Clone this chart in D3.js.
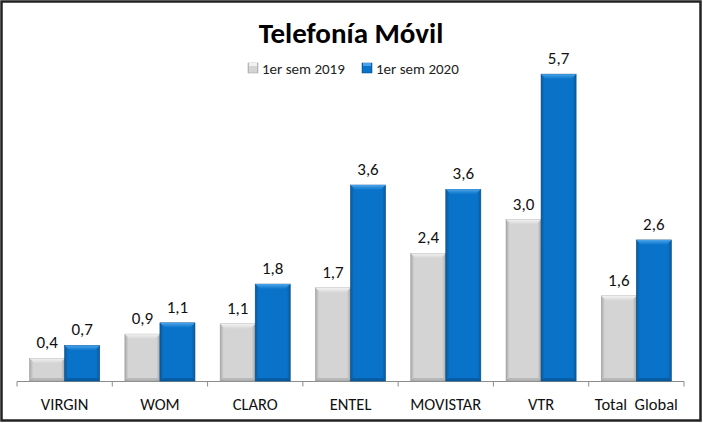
<!DOCTYPE html>
<html>
<head>
<meta charset="utf-8">
<script src="https://cdn.jsdelivr.net/npm/d3@7"></script>
<style>
  body { margin: 0; background: #fff; }
  text { font-family: Carlito, Lato, "Open Sans", sans-serif; }
</style>
</head>
<body>
<div id="chart"></div>
<script>
var W = 703, H = 423
var categories = ["VIRGIN", "WOM", "CLARO", "ENTEL", "MOVISTAR", "VTR", "Total  Global"]
var series = ["1er sem 2019", "1er sem 2020"]
var values2019 = [0.42, 0.87, 1.06, 1.73, 2.37, 3.0, 1.58]
var values2020 = [0.66, 1.08, 1.8, 3.64, 3.56, 5.7, 2.62]

var svg = d3.select("#chart").append("svg")
            .attr("width", W).attr("height", H)

// Gradients for the bevelled bars
var defs = svg.append("defs")
var colors = {
  "1er sem 2019": { edge: "#a9a9a9", mid: "#d4d4d4", top: "#f2f2f2", side: "#9c9c9c" },
  "1er sem 2020": { edge: "#0a5a9c", mid: "#0873c8", top: "#4aa3ea", side: "#054a85" }
}
series.forEach( (s, i) => {
  var c = colors[s]
  var g = defs.append("linearGradient").attr("id", "grad" + i)
              .attr("x1", "0").attr("x2", "1").attr("y1", "0").attr("y2", "0")
  g.append("stop").attr("offset", "0").attr("stop-color", c.edge)
  g.append("stop").attr("offset", "0.1").attr("stop-color", c.mid)
  g.append("stop").attr("offset", "0.9").attr("stop-color", c.mid)
  g.append("stop").attr("offset", "1").attr("stop-color", c.edge)
  var t = defs.append("linearGradient").attr("id", "top" + i)
              .attr("x1", "0").attr("x2", "0").attr("y1", "0").attr("y2", "1")
  t.append("stop").attr("offset", "0").attr("stop-color", c.top)
  t.append("stop").attr("offset", "1").attr("stop-color", c.mid)
})

// Frame
svg.append("rect").attr("x", 1.5).attr("y", 1.5)
   .attr("width", W - 4).attr("height", H - 4)
   .attr("fill", "#fff").attr("stroke", "#222").attr("stroke-width", 2.5)

// Scales
var x0 = d3.scaleBand().domain(categories).range([17, 684])
var x1 = d3.scaleBand().domain(series).range([0, x0.bandwidth()]).paddingOuter(0.36)
var y = d3.scaleLinear().domain([0, 6]).range([381, 58])

var fmt = v => d3.format(".1f")(v).replace(".", ",")

// Title
svg.append("text").attr("x", 351).attr("y", 43)
   .attr("text-anchor", "middle").attr("font-size", 29).attr("font-weight", "bold")
   .text("Telefonía Móvil")

// Legend
var legX = [248, 362]
series.forEach( (s, i) => {
  var lg = svg.append("g").attr("transform", "translate(" + legX[i] + ",68)")
  lg.append("rect").attr("x", 0).attr("y", -5).attr("width", 10).attr("height", 10)
    .attr("fill", "url(#grad" + i + ")").attr("stroke", colors[s].side).attr("stroke-width", 0.5)
  lg.append("rect").attr("x", 1).attr("y", -5).attr("width", 8).attr("height", 3)
    .attr("fill", colors[s].top)
  lg.append("text").attr("x", 14).attr("y", 5.5).attr("font-size", 15)
    .attr("fill", "#222").text(s)
})

// Axis
var axisG = svg.append("g").attr("transform", "translate(0,381.5)")
axisG.append("line").attr("x1", 17).attr("x2", 684)
     .attr("stroke", "#8c8c8c").attr("stroke-width", 1)
var ticks = categories.map( c => x0(c) ).concat([x0.range()[1]])
axisG.selectAll(".tick").data(ticks).enter().append("line")
     .attr("x1", d => d).attr("x2", d => d).attr("y1", 0).attr("y2", 5)
     .attr("stroke", "#8c8c8c")
axisG.selectAll(".lab").data(categories).enter().append("text")
     .attr("x", d => x0(d) + x0.bandwidth() / 2).attr("y", 28)
     .attr("text-anchor", "middle").attr("font-size", 16.5).attr("fill", "#111")
     .style("white-space", "pre").attr("xml:space", "preserve")
     .text(d => d)

// Bars
var data = []
categories.forEach( (c, i) => {
  data.push({ cat: c, s: series[0], v: values2019[i], k: 0 })
  data.push({ cat: c, s: series[1], v: values2020[i], k: 1 })
})

var bars = svg.append("g").selectAll("g").data(data).enter().append("g")
              .attr("transform", d => "translate(" + (x0(d.cat) + x1(d.s)) + ",0)")

var bw = x1.bandwidth(), bev = 5
bars.append("rect")
    .attr("x", 0).attr("y", d => y(d.v)).attr("width", bw)
    .attr("height", d => y(0) - y(d.v))
    .attr("fill", d => "url(#grad" + d.k + ")")
    .attr("stroke", d => colors[d.s].side).attr("stroke-width", 0.6)
bars.append("path")
    .attr("d", d => {
      var t = y(d.v)
      return "M0," + t + "L" + bw + "," + t + "L" + (bw - bev) + "," + (t + bev) +
             "L" + bev + "," + (t + bev) + "Z"
    })
    .attr("fill", d => "url(#top" + d.k + ")")
bars.append("path")
    .attr("d", d => {
      var b = y(0)
      return "M0," + b + "L" + bw + "," + b + "L" + (bw - 3) + "," + (b - 3) +
             "L3," + (b - 3) + "Z"
    })
    .attr("fill", d => colors[d.s].side).attr("opacity", 0.5)

// Data labels
bars.append("text")
    .attr("x", bw / 2).attr("y", d => y(d.v) - 10)
    .attr("text-anchor", "middle").attr("font-size", 17).attr("fill", "#111")
    .text(d => fmt(d.v))
</script>
</body>
</html>
